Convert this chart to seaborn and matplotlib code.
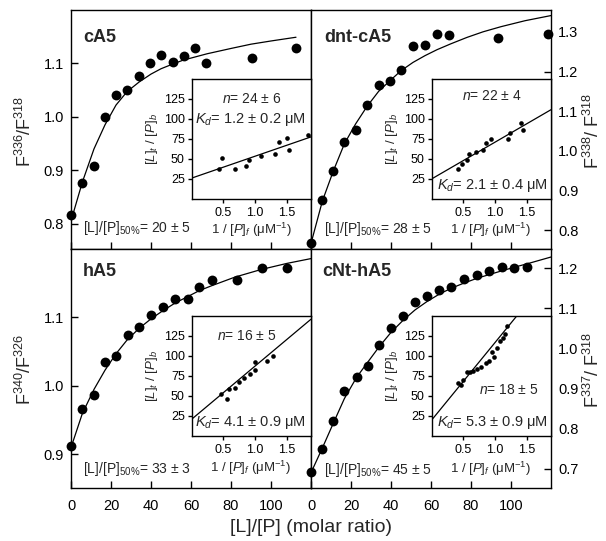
import matplotlib
matplotlib.use('Agg')
import matplotlib.pyplot as plt
import seaborn as sns

# ---------------- data ----------------
cA5_x = [0, 5.7, 11.5, 17, 22.5, 28.2, 33.8, 39.5, 45.2, 50.8, 56.3, 62, 67.7, 90.3, 112.5]
cA5_y = [0.816, 0.877, 0.907, 1.000, 1.041, 1.050, 1.077, 1.100, 1.116, 1.103, 1.113, 1.129, 1.101, 1.111, 1.129]
cA5_fit_x = [0, 5.7, 11.5, 17, 22.5, 28, 34, 40, 45, 51, 56, 62, 68, 80, 90, 100, 112.5]
cA5_fit_y = [0.805, 0.878, 0.940, 0.985, 1.022, 1.047, 1.065, 1.080, 1.090, 1.099, 1.106, 1.112, 1.118, 1.128, 1.136, 1.142, 1.149]

dnt_x = [0, 5.7, 11.2, 16.7, 22.3, 28, 33.8, 39.5, 45.2, 51.2, 57, 62.8, 69, 93.7, 118.7]
dnt_y = [0.767, 0.877, 0.950, 1.022, 1.053, 1.116, 1.165, 1.176, 1.205, 1.264, 1.268, 1.295, 1.292, 1.284, 1.295]
dnt_fit_x = [0, 5.7, 11.2, 16.7, 22.3, 28, 33.8, 39.5, 45, 51, 57, 63, 70, 78, 86, 95, 107, 120]
dnt_fit_y = [0.767, 0.874, 0.950, 1.018, 1.068, 1.112, 1.150, 1.177, 1.202, 1.223, 1.240, 1.255, 1.270,
             1.286, 1.300, 1.313, 1.328, 1.341]

hA5_x = [0, 5.7, 11.5, 17, 22.5, 28.3, 34.2, 40, 45.8, 52, 58.3, 64.2, 70.3, 82.8, 95.3, 107.8]
hA5_y = [0.912, 0.967, 0.987, 1.035, 1.044, 1.074, 1.086, 1.104, 1.115, 1.127, 1.127, 1.145, 1.155, 1.155,
         1.172, 1.172]
hA5_fit_x = [0, 5.7, 11.5, 17, 22.5, 28, 34, 40, 46, 52, 58, 64, 70, 82, 95, 108, 120]
hA5_fit_y = [0.910, 0.960, 0.995, 1.023, 1.047, 1.067, 1.084, 1.098, 1.110, 1.121, 1.130, 1.139, 1.146,
             1.159, 1.170, 1.179, 1.186]

cNt_x = [0, 5.7, 11.2, 16.7, 22.8, 28.7, 34.2, 40, 46.2, 52, 57.8, 64.2, 70, 76.5, 82.8, 89, 95.3, 101.7, 107.8]
cNt_y = [0.692, 0.749, 0.820, 0.895, 0.929, 0.955, 1.009, 1.051, 1.080, 1.115, 1.131, 1.146, 1.152, 1.173,
         1.184, 1.193, 1.203, 1.200, 1.204]
cNt_fit_x = [0, 5.7, 11.2, 16.7, 22.8, 28.7, 34.2, 40, 46, 52, 58, 64, 70, 76, 83, 89, 95, 102, 108, 120]
cNt_fit_y = [0.690, 0.752, 0.814, 0.875, 0.928, 0.968, 1.005, 1.040, 1.070, 1.096, 1.117, 1.135, 1.150,
             1.162, 1.175, 1.184, 1.193, 1.203, 1.211, 1.228]

# insets: 1/[P]f vs [L]t/[P]b
in_cA5_x = [0.43, 0.47, 0.68, 0.85, 0.90, 1.09, 1.31, 1.38, 1.50, 1.54, 1.83]
in_cA5_y = [37.5, 50.8, 37.5, 40.8, 48.7, 52.9, 56.2, 70.8, 76.2, 60.4, 79.1]
in_cA5_line_x = [0, 1.88]
in_cA5_line_y = [25.5, 77]

in_dnt_x = [0.42, 0.47, 0.55, 0.59, 0.70, 0.81, 0.85, 0.94, 1.20, 1.24, 1.41, 1.44]
in_dnt_y = [37.5, 43.7, 47.9, 56.2, 58.3, 60.8, 69.5, 75, 75, 82, 94.5, 85.4]
in_dnt_line_x = [0, 1.88]
in_dnt_line_y = [24.5, 111]

in_hA5_x = [0.46, 0.56, 0.59, 0.69, 0.74, 0.83, 0.92, 0.99, 0.99, 1.18, 1.28]
in_hA5_y = [52, 46.2, 58.7, 59.5, 67.9, 72, 77, 82.5, 92.9, 93.7, 100]
in_hA5_line_x = [0, 1.88]
in_hA5_line_y = [21, 146]

in_cNt_x = [0.42, 0.46, 0.49, 0.55, 0.60, 0.65, 0.71, 0.78, 0.85, 0.91, 0.95, 0.98, 1.03, 1.08, 1.12, 1.16, 1.19]
in_cNt_y = [66.6, 63.7, 70, 80.4, 79.5, 81.2, 83.7, 86.6, 91.6, 93.7, 105.4, 99.1, 109.5, 118.7, 122, 127, 137]
in_cNt_line_x = [0, 1.34]
in_cNt_line_y = [20, 150]

titles = ['cA5', 'dnt-cA5', 'hA5', 'cNt-hA5']
ylabels = [r'F$^{336}$/F$^{318}$', r'F$^{338}$/ F$^{318}$', r'F$^{340}$/F$^{326}$', r'F$^{337}$/ F$^{318}$']
half_txt = [r'[L]/[P]$_{50\%}$= 20 ± 5', r'[L]/[P]$_{50\%}$= 28 ± 5',
            r'[L]/[P]$_{50\%}$= 33 ± 3', r'[L]/[P]$_{50\%}$= 45 ± 5']
n_txt = [r'$n$= 24 ± 6', r'$n$= 22 ± 4', r'$n$= 16 ± 5', r'$n$= 18 ± 5']
kd_txt = [r'$K_d$= 1.2 ± 0.2 μM', r'$K_d$= 2.1 ± 0.4 μM', r'$K_d$= 4.1 ± 0.9 μM', r'$K_d$= 5.3 ± 0.9 μM']
main_xticks = [0, 20, 40, 60, 80, 100]
yticks_list = [[0.8, 0.9, 1.0, 1.1], [0.8, 0.9, 1.0, 1.1, 1.2, 1.3], [0.9, 1.0, 1.1], [0.7, 0.8, 0.9, 1.0, 1.1, 1.2]]
inset_xticks = [0.5, 1.0, 1.5]
inset_yticks = [25, 50, 75, 100, 125]

# ---------------- style ----------------
sns.set_style('ticks')
plt.rcParams['font.family'] = ['Liberation Sans', 'DejaVu Sans']
plt.rcParams['mathtext.fontset'] = 'custom'
plt.rcParams['mathtext.rm'] = 'Liberation Sans'
plt.rcParams['mathtext.it'] = 'Liberation Sans:italic'
plt.rcParams['mathtext.bf'] = 'Liberation Sans:bold'
plt.rcParams['axes.linewidth'] = 1.0

W, H = 606, 541
fig = plt.figure(figsize=(W / 100, H / 100), dpi=100)


def rect(x0, y0, x1, y1):
    return [x0 / W, 1 - y1 / H, (x1 - x0) / W, (y1 - y0) / H]


def ftext(px, py, s, **kw):
    fig.text(px / W, 1 - py / H, s, **kw)


main_rects = [(71, 10, 311, 249), (311, 10, 551, 249), (71, 249, 311, 488), (311, 249, 551, 488)]
ylims = [(0.7525, 1.2), (0.753, 1.355), (0.851, 1.2), (0.652, 1.248)]
pts = [(cA5_x, cA5_y), (dnt_x, dnt_y), (hA5_x, hA5_y), (cNt_x, cNt_y)]
fits = [(cA5_fit_x, cA5_fit_y), (dnt_fit_x, dnt_fit_y), (hA5_fit_x, hA5_fit_y), (cNt_fit_x, cNt_fit_y)]

axes = []
for i in range(4):
    ax = fig.add_axes(rect(*main_rects[i]))
    axes.append(ax)
    fx, fy = fits[i]
    sns.lineplot(x=fx, y=fy, ax=ax, color='black', linewidth=0.9, errorbar=None)
    px, py = pts[i]
    sns.scatterplot(x=px, y=py, ax=ax, color='black', s=50, linewidth=0, zorder=3)
    for coll in ax.collections:
        coll.set_clip_on(False)
    ax.set_xlim(0, 120)
    ax.set_ylim(*ylims[i])
    ax.set_xticks(main_xticks)
    ax.set_yticks(yticks_list[i])
    ax.set_yticklabels([f'{v:.1f}' for v in yticks_list[i]])
    ax.tick_params(direction='in', length=5, width=1, labelsize=10.5, colors='black')
    ax.tick_params(axis='x', pad=8)
    ax.tick_params(axis='y', pad=5)
    if i < 2:
        ax.tick_params(axis='x', labelbottom=False)
    if i % 2 == 1:
        ax.tick_params(axis='y', left=False, labelleft=False, right=True, labelright=True)
    for sp in ax.spines.values():
        sp.set_visible(True)
        sp.set_linewidth(1.0)
        sp.set_color('black')
    ax.set_xlabel('')
    ax.set_ylabel('')

# titles, annotations, axis labels
title_pos = [(83, 37.5), (324, 37.5), (83, 272), (322, 272)]
half_pos = [(83, 232), (324, 233), (83, 473), (324, 474)]
ylab_pos = [(25, 131), (593, 131), (25, 369), (593, 370)]
for i in range(4):
    ftext(*title_pos[i], titles[i], fontsize=13, fontweight='bold', ha='left', va='center')
    ftext(*half_pos[i], half_txt[i], fontsize=10, ha='left', va='baseline')
    ftext(*ylab_pos[i], ylabels[i], fontsize=13, rotation=90, ha='center', va='center')
ftext(311, 527, '[L]/[P] (molar ratio)', fontsize=14, ha='center', va='center')

# insets
inset_rects = [(191.7, 78.5, 311, 198.5), (431.7, 78.5, 551, 198.5),
               (191.7, 316, 311, 436), (431.7, 316, 551, 436)]
in_pts = [(in_cA5_x, in_cA5_y), (in_dnt_x, in_dnt_y), (in_hA5_x, in_hA5_y), (in_cNt_x, in_cNt_y)]
in_lines = [(in_cA5_line_x, in_cA5_line_y), (in_dnt_line_x, in_dnt_line_y),
            (in_hA5_line_x, in_hA5_line_y), (in_cNt_line_x, in_cNt_line_y)]
n_pos = [(252, 102.7), (492, 100), (247, 339.7), (509, 394.3)]
kd_pos = [(250, 122.7), (492, 189.3), (250, 426.3), (492, 426.3)]
ixl_pos = [(252, 234), (491, 234), (251, 472), (491, 473)]

for i in range(4):
    ia = fig.add_axes(rect(*inset_rects[i]))
    ia.set_facecolor('white')
    lx, ly = in_lines[i]
    sns.lineplot(x=lx, y=ly, ax=ia, color='black', linewidth=0.9, errorbar=None)
    ix, iy = in_pts[i]
    sns.scatterplot(x=ix, y=iy, ax=ia, color='black', s=11, linewidth=0, zorder=3)
    ia.set_xlim(0, 1.88)
    ia.set_ylim(0, 150)
    ia.set_xticks(inset_xticks)
    ia.set_xticklabels(['0.5', '1.0', '1.5'])
    ia.set_yticks(inset_yticks)
    ia.tick_params(direction='out', length=3, width=1, labelsize=9, colors='black')
    ia.tick_params(axis='x', pad=3)
    ia.tick_params(axis='y', pad=2)
    for sp in ia.spines.values():
        sp.set_visible(True)
        sp.set_linewidth(1.0)
        sp.set_color('black')
    ia.set_xlabel('')
    ia.set_ylabel(r'$[L]_t$ / $[P]_b$', fontsize=9.5, labelpad=3)
    ftext(*n_pos[i], n_txt[i], fontsize=10, ha='center', va='baseline')
    ftext(*kd_pos[i], kd_txt[i], fontsize=10.5, ha='center', va='baseline')
    ftext(*ixl_pos[i], r'1 / $[P]_f$ (μM$^{-1}$)', fontsize=9.5, ha='center', va='baseline')

fig.savefig('out.png', dpi=100)
